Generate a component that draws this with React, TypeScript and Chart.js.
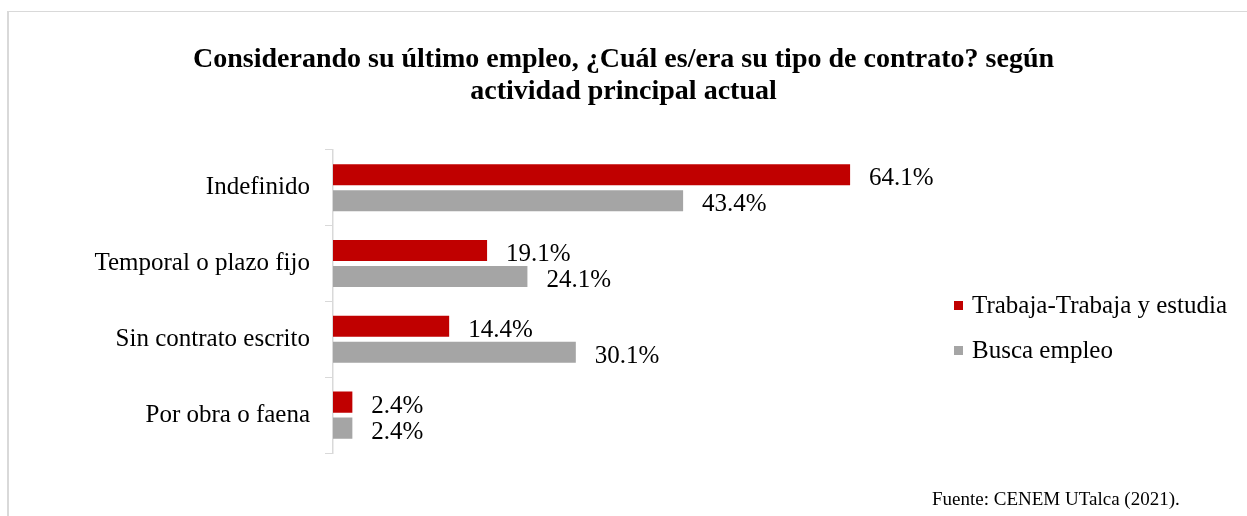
import React, { useEffect, useRef } from "react";
import { Chart, registerables } from "chart.js";

Chart.register(...registerables);

const categories = ["Indefinido", "Temporal o plazo fijo", "Sin contrato escrito", "Por obra o faena"];
const trabajaValues = [64.1, 19.1, 14.4, 2.4];
const buscaValues = [43.4, 24.1, 30.1, 2.4];
const seriesNames = ["Trabaja-Trabaja y estudia", "Busca empleo"];
const seriesColors = ["#C00000", "#A5A5A5"];
const titleLines = [
  "Considerando su último empleo, ¿Cuál es/era su tipo de contrato? según",
  "actividad principal actual",
];
const sourceText = "Fuente: CENEM UTalca (2021).";

const FONT = "'Liberation Serif', 'Times New Roman', serif";

const valueLabels = {
  id: "valueLabels",
  afterDatasetsDraw(chart: any) {
    const ctx = chart.ctx;
    ctx.save();
    ctx.font = `25px ${FONT}`;
    ctx.fillStyle = "#000";
    ctx.textAlign = "left";
    ctx.textBaseline = "middle";
    chart.data.datasets.forEach((ds: any, di: number) => {
      const meta = chart.getDatasetMeta(di);
      meta.data.forEach((bar: any, i: number) => {
        const v = ds.data[i];
        ctx.fillText(v.toFixed(1) + "%", bar.x + 19, bar.y + 4);
      });
    });
    ctx.restore();
  },
};

export default function App() {
  const ref = useRef<HTMLCanvasElement>(null);
  useEffect(() => {
    if (!ref.current) return;
    const chart = new Chart(ref.current, {
      type: "bar",
      data: {
        labels: categories,
        datasets: [
          {
            label: seriesNames[0],
            data: trabajaValues,
            backgroundColor: seriesColors[0],
            categoryPercentage: 0.686,
            barPercentage: 0.81,
          },
          {
            label: seriesNames[1],
            data: buscaValues,
            backgroundColor: seriesColors[1],
            categoryPercentage: 0.686,
            barPercentage: 0.81,
          },
        ],
      },
      options: {
        indexAxis: "y",
        animation: false,
        responsive: false,
        maintainAspectRatio: false,
        layout: { padding: { top: 30, bottom: 63, left: 0, right: 0 } },
        plugins: {
          legend: { display: false },
          tooltip: { enabled: false },
          title: {
            display: true,
            text: titleLines,
            color: "#000",
            font: { family: FONT, size: 28, weight: "bold", lineHeight: 1.14 },
            padding: { top: 14, bottom: 42 },
          },
        },
        scales: {
          x: { display: false, min: 0, max: 113.3 },
          y: {
            afterFit(scale: any) {
              scale.width = 333;
            },
            grid: {
              drawOnChartArea: false,
              drawTicks: true,
              tickLength: 8,
              color: "#d9d9d9",
              offset: true,
            },
            border: { display: true, color: "#d9d9d9", width: 1.5 },
            ticks: {
              color: "#000",
              padding: 15,
              font: { family: FONT, size: 25 },
            },
          },
        },
      },
      plugins: [valueLabels],
    });
    return () => chart.destroy();
  }, []);

  return (
    <div style={{ position: "absolute", left: 0, top: 0, width: 1247, height: 516, background: "#fff", overflow: "hidden" }}>
      <canvas ref={ref} width={1247} height={516} style={{ position: "absolute", left: 0, top: 0 }} />
      <div
        style={{
          position: "absolute",
          left: 7,
          top: 11,
          width: 1300,
          height: 600,
          borderLeft: "2px solid #d9d9d9",
          borderTop: "1px solid #d9d9d9",
          pointerEvents: "none",
        }}
      />
      {seriesNames.map((name, i) => (
        <div
          key={name}
          style={{
            position: "absolute",
            left: 954,
            top: i === 0 ? 290 : 335,
            height: 30,
            display: "flex",
            alignItems: "center",
            fontFamily: FONT,
            fontSize: 25,
            color: "#000",
            whiteSpace: "nowrap",
          }}
        >
          <span style={{ display: "inline-block", width: 9, height: 9, background: seriesColors[i], marginRight: 9 }} />
          <span>{name}</span>
        </div>
      ))}
      <div
        style={{
          position: "absolute",
          left: 932,
          top: 488,
          fontFamily: FONT,
          fontSize: 19,
          color: "#000",
          whiteSpace: "nowrap",
        }}
      >
        {sourceText}
      </div>
    </div>
  );
}
